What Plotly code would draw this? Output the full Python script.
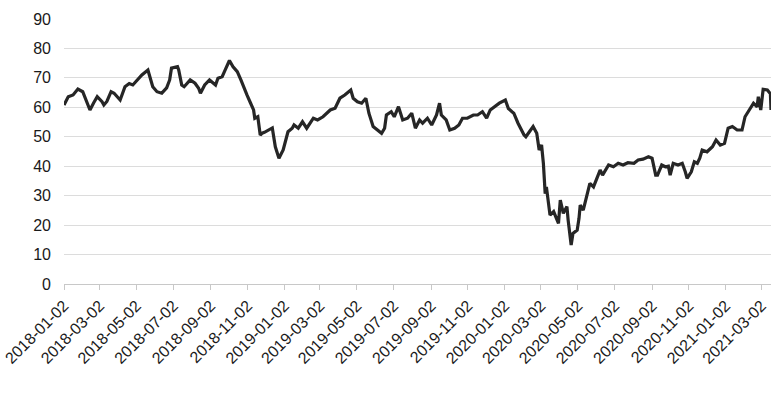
import plotly.graph_objects as go

dates = [
    "2018-01-02", "2018-01-09", "2018-01-17", "2018-01-25", "2018-02-02", "2018-02-09", "2018-02-14",
    "2018-02-20", "2018-02-26", "2018-03-06", "2018-03-09", "2018-03-14", "2018-03-21", "2018-03-26",
    "2018-04-05", "2018-04-13", "2018-04-20", "2018-04-26", "2018-05-03", "2018-05-11", "2018-05-21",
    "2018-05-29", "2018-06-05", "2018-06-13", "2018-06-21", "2018-06-26", "2018-06-29", "2018-07-09",
    "2018-07-11", "2018-07-16", "2018-07-20", "2018-07-30", "2018-08-07", "2018-08-13", "2018-08-16",
    "2018-08-23", "2018-08-31", "2018-09-10", "2018-09-14", "2018-09-21", "2018-09-26", "2018-10-03",
    "2018-10-09", "2018-10-16", "2018-10-22", "2018-10-26", "2018-11-01", "2018-11-06", "2018-11-12",
    "2018-11-14", "2018-11-19", "2018-11-23", "2018-11-26", "2018-11-30", "2018-12-06", "2018-12-13",
    "2018-12-18", "2018-12-24", "2018-12-31",
    "2019-01-03", "2019-01-08", "2019-01-15", "2019-01-18", "2019-01-25", "2019-02-01", "2019-02-08",
    "2019-02-19", "2019-02-26", "2019-03-07", "2019-03-19", "2019-03-27", "2019-04-04", "2019-04-12",
    "2019-04-22", "2019-04-26", "2019-05-03", "2019-05-10", "2019-05-17", "2019-05-22", "2019-05-29",
    "2019-06-05", "2019-06-12", "2019-06-17", "2019-06-20", "2019-06-28", "2019-07-03", "2019-07-10",
    "2019-07-17", "2019-07-25", "2019-08-01", "2019-08-07", "2019-08-14", "2019-08-19", "2019-08-27",
    "2019-09-03", "2019-09-11", "2019-09-16", "2019-09-19", "2019-09-27", "2019-10-03", "2019-10-11",
    "2019-10-18", "2019-10-24", "2019-11-01", "2019-11-11", "2019-11-18", "2019-11-26", "2019-12-03",
    "2019-12-09", "2019-12-16", "2019-12-24",
    "2020-01-03", "2020-01-08", "2020-01-14", "2020-01-17", "2020-01-24", "2020-02-03", "2020-02-06",
    "2020-02-12", "2020-02-18", "2020-02-24", "2020-02-28", "2020-03-03", "2020-03-06", "2020-03-09",
    "2020-03-11", "2020-03-17", "2020-03-23", "2020-03-31", "2020-04-03", "2020-04-08", "2020-04-14",
    "2020-04-16", "2020-04-21", "2020-04-24", "2020-05-01", "2020-05-04", "2020-05-06", "2020-05-11",
    "2020-05-18", "2020-05-22", "2020-05-28", "2020-06-03", "2020-06-08", "2020-06-12", "2020-06-22",
    "2020-06-30", "2020-07-08", "2020-07-16", "2020-07-24", "2020-08-03", "2020-08-10", "2020-08-18",
    "2020-08-27", "2020-09-02", "2020-09-08", "2020-09-11", "2020-09-18", "2020-09-24", "2020-09-29",
    "2020-10-02", "2020-10-07", "2020-10-15", "2020-10-22", "2020-10-27", "2020-10-30", "2020-11-06",
    "2020-11-11", "2020-11-16", "2020-11-20", "2020-11-24", "2020-12-02", "2020-12-11", "2020-12-17",
    "2020-12-24", "2020-12-31",
    "2021-01-06", "2021-01-13", "2021-01-21", "2021-01-29", "2021-02-03", "2021-02-12", "2021-02-17",
    "2021-02-23", "2021-02-25", "2021-03-01", "2021-03-05", "2021-03-12", "2021-03-15", "2021-03-17",
    "2021-03-18",
]

prices = [
    60.8, 63.6, 64.2, 66.2, 65.3, 61.9, 59.1,
    61.5, 63.6, 61.9, 60.8, 62.0, 65.3, 64.8,
    62.5, 67.0, 68.1, 67.6, 69.3, 71.0, 72.7,
    67.0, 65.3, 64.8, 66.6, 69.3, 73.3, 73.8,
    72.7, 67.6, 67.0, 69.3, 68.2, 66.5, 64.8,
    67.6, 69.3, 67.6, 69.9, 70.4, 72.7, 75.9,
    73.8, 72.1, 69.3, 67.0, 64.2, 61.9, 59.1,
    56.3, 56.8, 50.6, 51.2, 51.5, 52.3, 53.0,
    46.6, 42.7, 45.5,
    48.3, 51.7, 52.9, 54.0, 52.9, 55.1, 52.9,
    56.3, 55.7, 56.8, 59.1, 59.7, 63.1, 64.2,
    65.9, 63.1, 61.9, 61.4, 63.1, 58.0, 53.5,
    52.5, 51.2, 52.9, 57.4, 58.5, 56.8, 60.2,
    55.7, 56.3, 58.0, 52.9, 55.7, 54.6, 56.3,
    54.0, 57.4, 61.4, 57.4, 55.7, 52.3, 52.9,
    54.0, 56.3, 56.3, 57.4, 57.4, 58.5, 56.3,
    59.1, 60.2, 61.4,
    62.5, 59.6, 58.5, 58.0, 54.6, 50.6, 50.0,
    51.7, 53.5, 51.2, 45.5, 47.2, 41.0, 30.7,
    33.0, 23.4, 24.6, 20.6, 28.5, 24.0, 26.3,
    21.7, 13.2, 17.2, 18.3, 22.3, 26.8, 25.1,
    31.4, 34.2, 33.0, 36.4, 38.7, 37.0, 40.4,
    39.8, 41.0, 40.4, 41.2, 41.0, 42.1, 42.4,
    43.2, 42.7, 37.0, 37.0, 40.4, 39.8, 40.0,
    37.0, 41.0, 40.4, 41.0, 38.1, 35.9, 38.1,
    41.5, 41.0, 42.7, 45.5, 44.9, 46.6, 48.9,
    47.2, 47.8,
    52.9, 53.5, 52.3, 52.3, 56.8, 59.7, 61.4,
    60.2, 63.6, 59.1, 66.1, 65.9, 64.8, 64.6,
    59.1,
]

tick_dates = [
    "2018-01-02", "2018-03-02", "2018-05-02", "2018-07-02", "2018-09-02", "2018-11-02",
    "2019-01-02", "2019-03-02", "2019-05-02", "2019-07-02", "2019-09-02", "2019-11-02",
    "2020-01-02", "2020-03-02", "2020-05-02", "2020-07-02", "2020-09-02", "2020-11-02",
    "2021-01-02", "2021-03-02",
]
y_ticks = [0, 10, 20, 30, 40, 50, 60, 70, 80, 90]

font_family = "Liberation Sans, Arial, sans-serif"

fig = go.Figure()
fig.add_trace(go.Scatter(
    x=dates, y=prices, mode="lines",
    line=dict(color="#262626", width=3.2),
    hoverinfo="x+y", showlegend=False,
))

fig.update_layout(
    width=778, height=398,
    margin=dict(l=64, r=7, t=19, b=114, autoexpand=False),
    paper_bgcolor="white", plot_bgcolor="white",
    font=dict(family=font_family, size=16, color="#1a1a1a"),
)
fig.update_xaxes(
    type="date",
    range=["2018-01-02", "2021-03-18"],
    tickvals=tick_dates, ticktext=tick_dates,
    tickangle=-45,
    ticks="outside", ticklen=5, tickcolor="#c8c8c8", tickwidth=1,
    showline=True, linecolor="#c8c8c8", linewidth=1,
    showgrid=False, zeroline=False,
    automargin=False,
    ticklabeloverflow="allow",
    tickfont=dict(size=16, color="#1a1a1a"),
)
fig.update_yaxes(
    range=[0, 90],
    tickvals=y_ticks,
    showgrid=True, gridcolor="#dcdcdc", gridwidth=1,
    zeroline=False, showline=False,
    automargin=False,
    ticks="", ticklabelstandoff=12,
    tickfont=dict(size=16, color="#1a1a1a"),
)

fig.write_html("out.html")
